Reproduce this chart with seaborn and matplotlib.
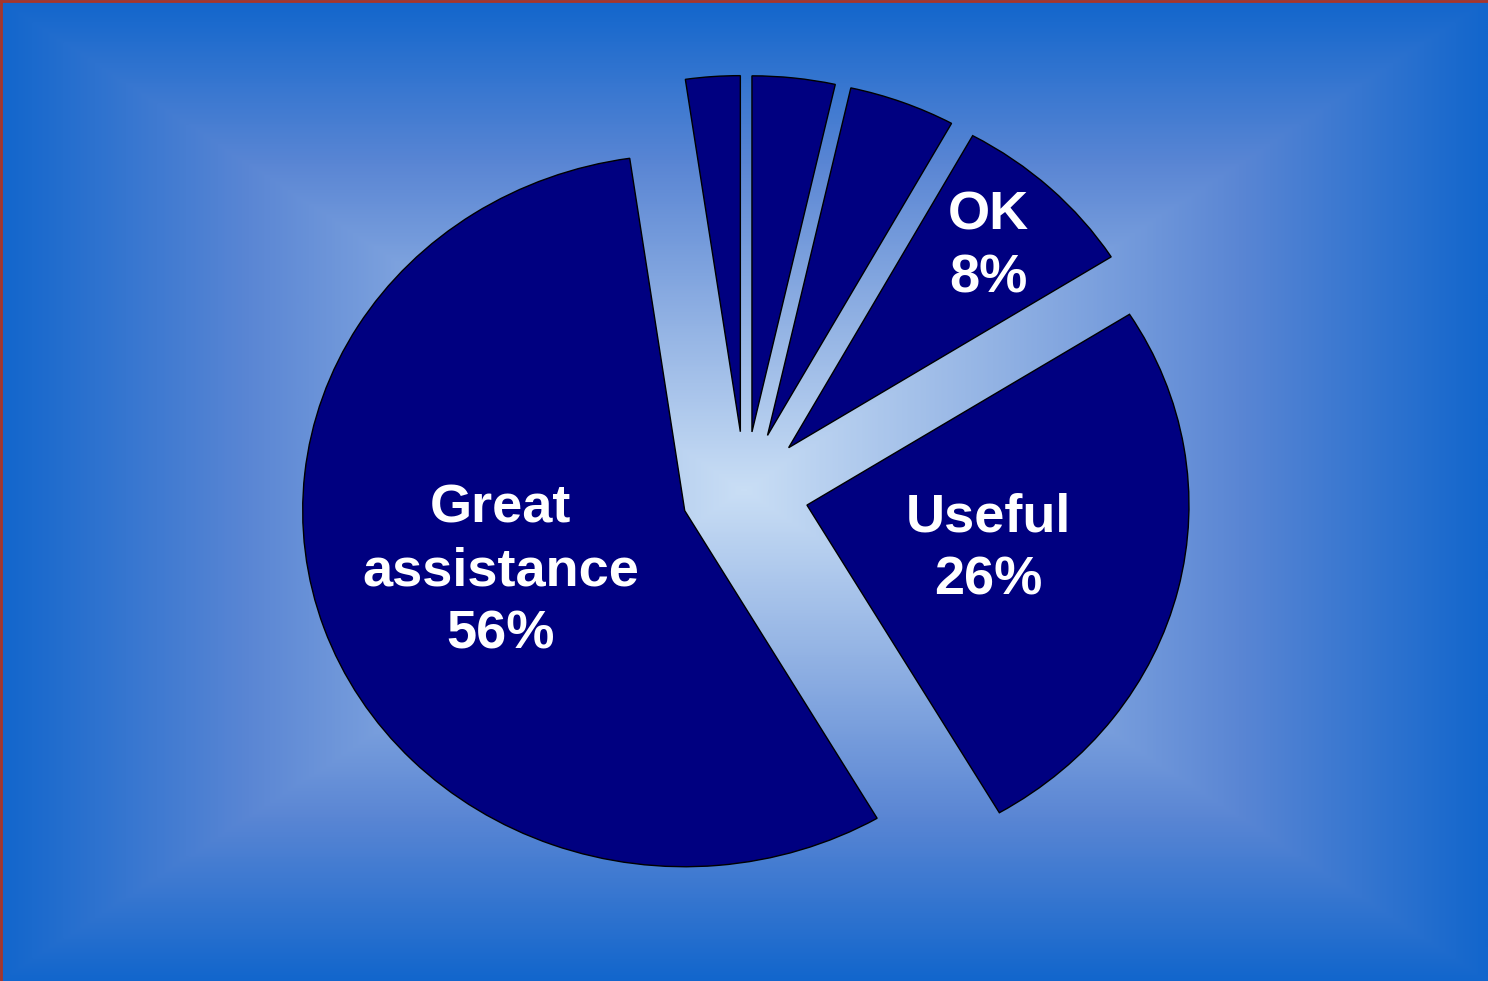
import numpy as np
import matplotlib
matplotlib.use("Agg")
import matplotlib.pyplot as plt
import seaborn as sns
from matplotlib.colors import LinearSegmentedColormap

# slices clockwise from 12 o'clock
names = ["", "", "OK", "Useful", "Great\nassistance", ""]
shares = [3.5, 4.5, 8, 25.6, 56.1, 2.3]
shown_pct = [None, None, "8%", "26%", "56%", None]
label_dist = [0, 0, 0.78, 0.5, 0.5, 0]

sns.set_theme(style="white")
plt.rcParams['font.family'] = ['Liberation Sans', 'DejaVu Sans']

fig = plt.figure(figsize=(14.88, 9.81), dpi=100)

# rectangular "from centre" gradient backdrop
bg = fig.add_axes([0, 0, 1, 1])
gx = np.abs(np.linspace(-1, 1, 744))
gy = np.abs(np.linspace(-1, 1, 490))
t = np.maximum(gx[None, :], gy[:, None])
cmap = LinearSegmentedColormap.from_list(
    "bgfill", ["#c9def5", "#93b3e4", "#5a86d4", "#1266cc"], N=256)
bg.imshow(t, cmap=cmap, aspect="auto", extent=[0, 1, 0, 1], interpolation="bilinear")
bg.set_axis_off()

ax = fig.add_axes([0, 0, 1, 1])
ax.patch.set_alpha(0)
wedges, _ = ax.pie(shares, startangle=90, counterclock=False,
                   explode=[0.167] * len(shares),
                   colors=["#000080"] * len(shares),
                   wedgeprops=dict(edgecolor="black", linewidth=1))
ax.set_aspect("auto")
ax.set_xlim(-1.950, 1.945)
ax.set_ylim(-1.376, 1.379)
ax.set_axis_off()

for w, name, pct, d in zip(wedges, names, shown_pct, label_dist):
    if pct is None:
        continue
    mid = np.deg2rad((w.theta1 + w.theta2) / 2)
    cx, cy = w.center
    ax.text(cx + d * np.cos(mid) - 0.01, cy + d * np.sin(mid) - 0.005, f"{name}\n{pct}",
            ha="center", va="center", color="white", fontsize=39,
            fontweight="bold", linespacing=1.33)

# thin frame on top and left edge
fig.add_artist(plt.Line2D([0, 1], [0.999, 0.999], color="#a8352a", lw=2,
                          transform=fig.transFigure))
fig.add_artist(plt.Line2D([0.0007, 0.0007], [0, 1], color="#a8352a", lw=2,
                          transform=fig.transFigure))

fig.savefig("out.png", dpi=100)
